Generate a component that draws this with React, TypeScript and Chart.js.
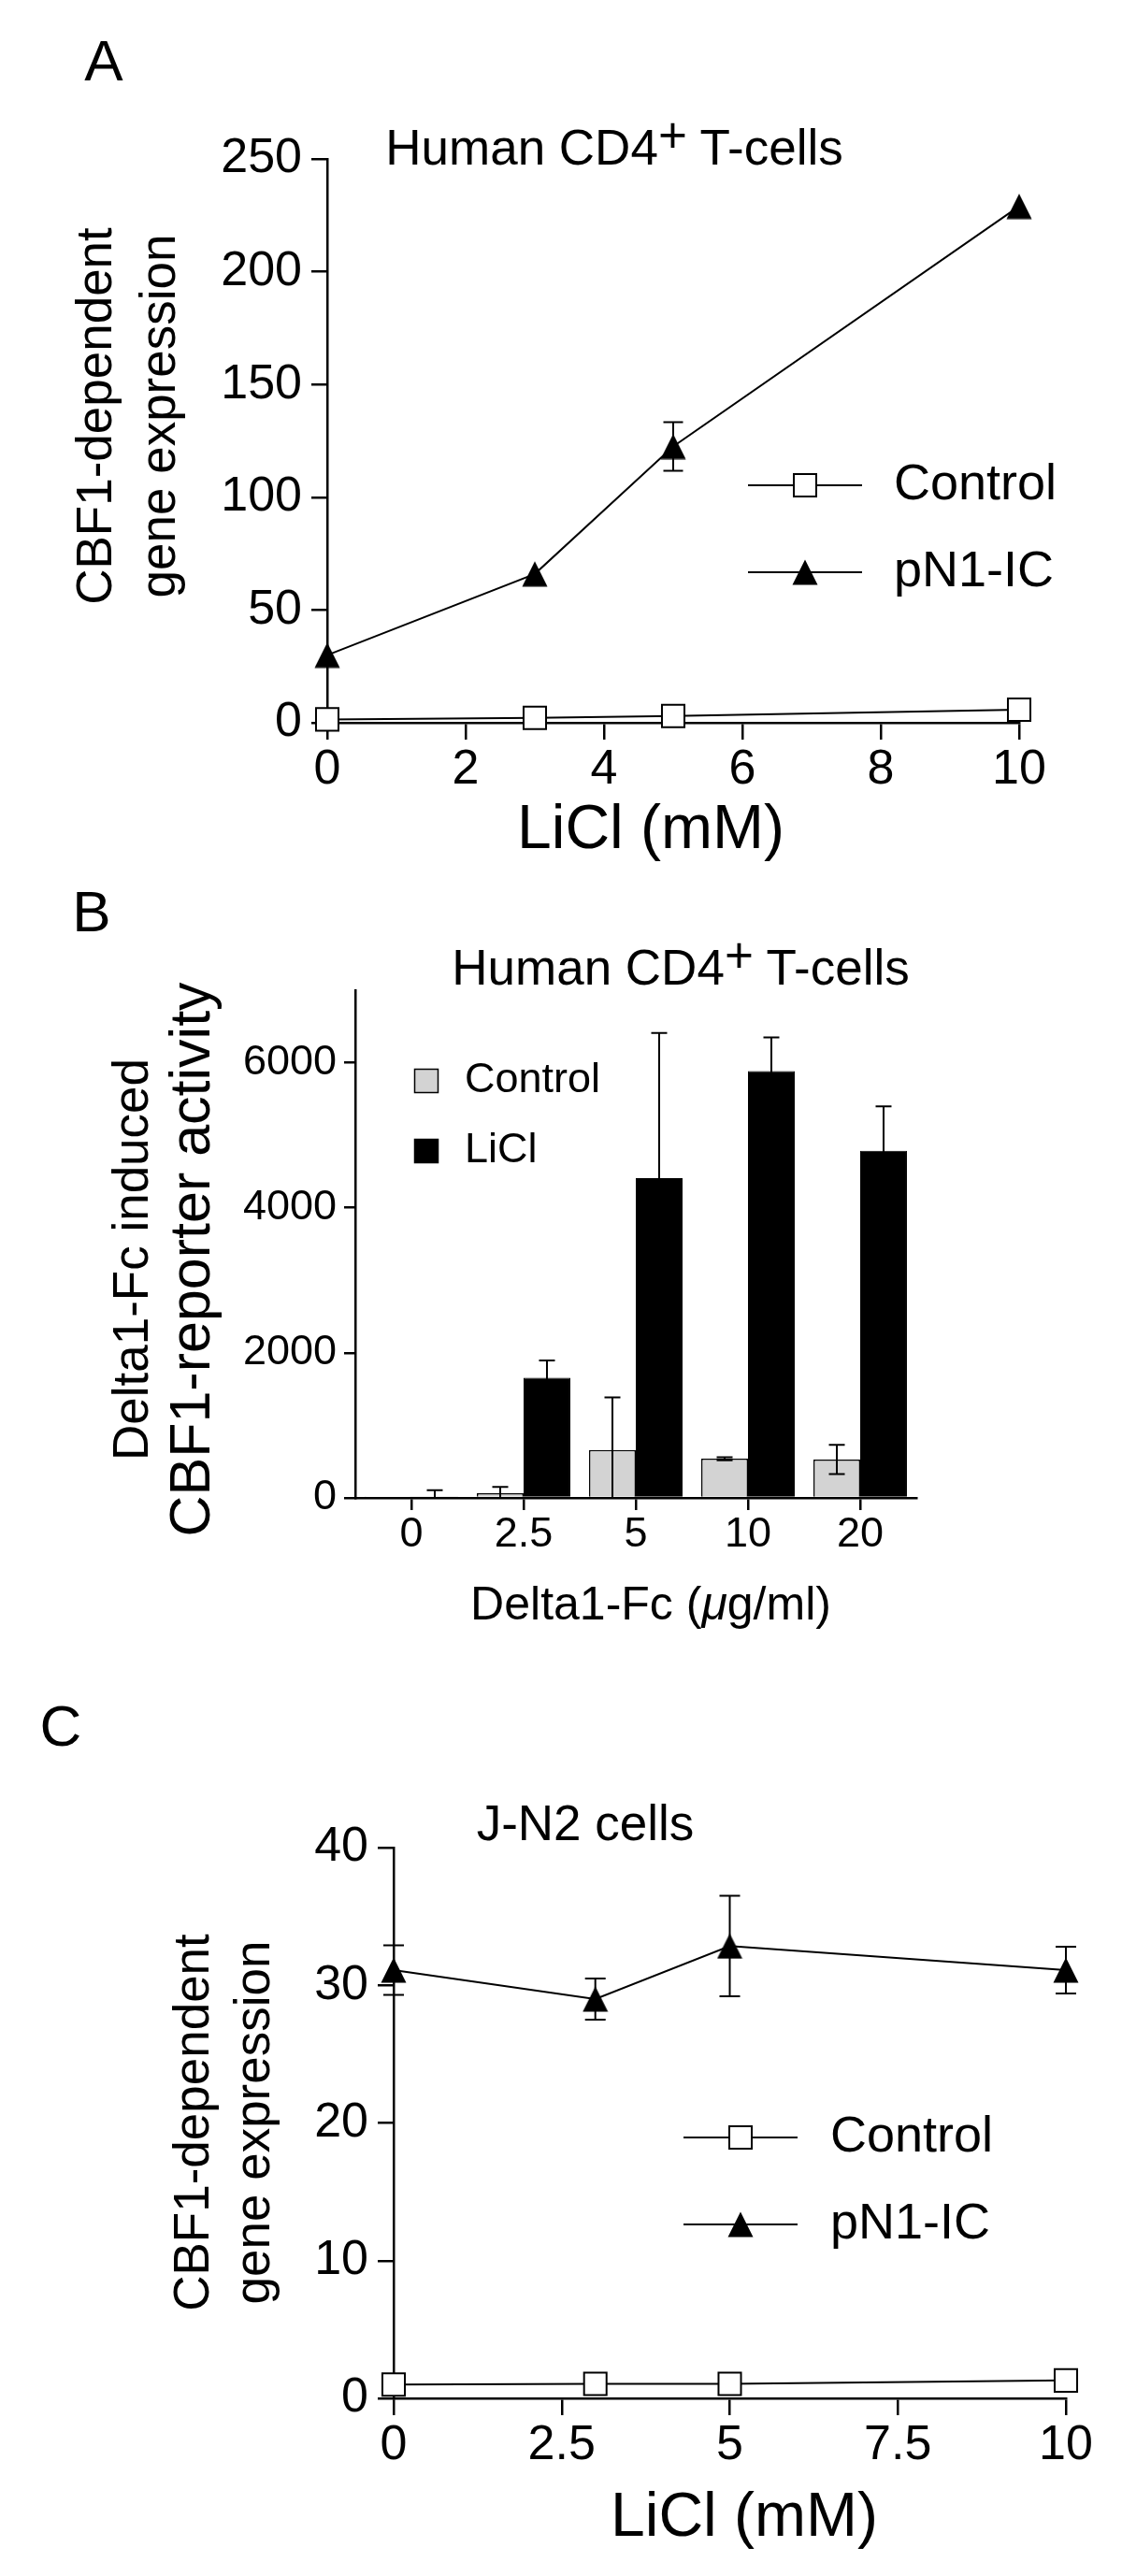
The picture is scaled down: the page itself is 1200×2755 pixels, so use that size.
import React, { useEffect, useRef } from "react";
import { Chart, registerables } from "chart.js";

Chart.register(...registerables);

const FONT = "'Liberation Sans', Arial, Helvetica, sans-serif";

// ---------- Panel A : Human CD4+ T-cells, LiCl dose ----------
const liclA = [0, 3, 5, 10];
const controlA = [1.5, 2.2, 3.0, 5.8];
const pn1A = [30, 66, 122.5, 229];
const pn1AErr = [0, 0, 10.8, 0];
const xTicksA = [0, 2, 4, 6, 8, 10];
const yTicksA = [0, 50, 100, 150, 200, 250];

// ---------- Panel B : Delta1-Fc, bars ----------
const deltaLabels = ["0", "2.5", "5", "10", "20"];
const controlB = [10, 65, 660, 540, 530];
const controlBErr = [0, 85, 725, 20, 200];
const liclB = [5, 1655, 4410, 5885, 4785];
const liclBErr = [100, 240, 2000, 463, 612];
const yTicksB = [0, 2000, 4000, 6000];
const yMaxB = 7000;

// ---------- Panel C : J-N2 cells ----------
const liclC = [0, 3, 5, 10];
const controlC = [1.0, 1.05, 1.05, 1.3];
const pn1C = [31.1, 29.0, 32.85, 31.1];
const pn1CErr = [1.8, 1.5, 3.65, 1.7];
const xTicksC = [0, 2.5, 5, 7.5, 10];
const yTicksC = [0, 10, 20, 30, 40];

const seriesLine = ["Control", "pN1-IC"];
const seriesBar = ["Control", "LiCl"];

function makeTriangle(size: number) {
  const c = document.createElement("canvas");
  c.width = size;
  c.height = size;
  const g = c.getContext("2d")!;
  g.fillStyle = "#000";
  g.beginPath();
  g.moveTo(size / 2, 0.5);
  g.lineTo(size - 0.5, size - 0.5);
  g.lineTo(0.5, size - 0.5);
  g.closePath();
  g.fill();
  return c;
}

function errorBarPlugin(errs: (number[] | null)[], cap: number) {
  return {
    id: "errbars",
    afterDatasetsDraw(chart: any) {
      const ctx = chart.ctx;
      const ys = chart.scales.y;
      ctx.save();
      ctx.strokeStyle = "#000";
      ctx.lineWidth = 2;
      errs.forEach((e, di) => {
        if (!e) return;
        const meta = chart.getDatasetMeta(di);
        const data = chart.data.datasets[di].data;
        meta.data.forEach((el: any, i: number) => {
          const err = e[i];
          if (!err) return;
          const raw = data[i];
          const v = typeof raw === "number" ? raw : raw.y;
          const x = el.x;
          const yt = ys.getPixelForValue(v + err);
          const low = Math.max(ys.min, v - err);
          const yb = ys.getPixelForValue(low);
          ctx.beginPath();
          ctx.moveTo(x, yt);
          ctx.lineTo(x, yb);
          ctx.moveTo(x - cap / 2, yt);
          ctx.lineTo(x + cap / 2, yt);
          if (v - err > ys.min) {
            ctx.moveTo(x - cap / 2, yb);
            ctx.lineTo(x + cap / 2, yb);
          }
          ctx.stroke();
        });
      });
      ctx.restore();
    },
  };
}

type LineLegend = {
  x0: number; x1: number; mx: number; tx: number; size: number;
  rows: { label: string; marker: "square" | "tri"; y: number }[];
};
function lineLegendPlugin(cfg: LineLegend, tri: HTMLCanvasElement) {
  return {
    id: "lineLegend",
    afterDraw(chart: any) {
      const ctx = chart.ctx;
      ctx.save();
      for (const r of cfg.rows) {
        ctx.strokeStyle = "#000";
        ctx.lineWidth = 2;
        ctx.beginPath();
        ctx.moveTo(cfg.x0, r.y);
        ctx.lineTo(cfg.x1, r.y);
        ctx.stroke();
        if (r.marker === "square") {
          ctx.fillStyle = "#fff";
          ctx.fillRect(cfg.mx - 12, r.y - 12, 24, 24);
          ctx.strokeRect(cfg.mx - 12, r.y - 12, 24, 24);
        } else {
          ctx.drawImage(tri, cfg.mx - tri.width / 2, r.y - tri.height / 2);
        }
        ctx.fillStyle = "#000";
        ctx.font = `${cfg.size}px ${FONT}`;
        ctx.textBaseline = "middle";
        ctx.textAlign = "left";
        ctx.fillText(r.label, cfg.tx, r.y);
      }
      ctx.restore();
    },
  };
}

type BoxLegend = {
  bx: number; bs: number; tx: number; size: number;
  rows: { label: string; fill: string; y: number }[];
};
function boxLegendPlugin(cfg: BoxLegend) {
  return {
    id: "boxLegend",
    afterDraw(chart: any) {
      const ctx = chart.ctx;
      ctx.save();
      for (const r of cfg.rows) {
        ctx.fillStyle = r.fill;
        ctx.strokeStyle = "#000";
        ctx.lineWidth = 1.5;
        ctx.fillRect(cfg.bx - cfg.bs / 2, r.y - cfg.bs / 2, cfg.bs, cfg.bs);
        ctx.strokeRect(cfg.bx - cfg.bs / 2, r.y - cfg.bs / 2, cfg.bs, cfg.bs);
        ctx.fillStyle = "#000";
        ctx.font = `${cfg.size}px ${FONT}`;
        ctx.textBaseline = "middle";
        ctx.textAlign = "left";
        ctx.fillText(r.label, cfg.tx, r.y);
      }
      ctx.restore();
    },
  };
}

function linAxis(ticksArr: number[], o: { max?: number; size: number; pad: number; tl: number; fitW?: number; fitH?: number }) {
  return {
    type: "linear",
    min: ticksArr[0],
    max: o.max ?? ticksArr[ticksArr.length - 1],
    afterBuildTicks: (s: any) => {
      s.ticks = ticksArr.map((v) => ({ value: v }));
    },
    afterFit: (s: any) => {
      if (o.fitW !== undefined) s.width = o.fitW;
      if (o.fitH !== undefined) s.height = o.fitH;
    },
    ticks: {
      font: { family: FONT, size: o.size },
      color: "#000",
      padding: o.pad,
      autoSkip: false,
      maxRotation: 0,
      minRotation: 0,
      callback: (v: any) => String(v),
    },
    grid: { drawOnChartArea: false, drawTicks: true, tickLength: o.tl, color: "#000", lineWidth: 2.5 },
    border: { display: true, color: "#000", width: 2.5 },
  };
}

function lineDatasets(xs: number[], ctrl: number[], pn1: number[], tri: HTMLCanvasElement) {
  return [
    {
      label: seriesLine[0],
      data: xs.map((x, i) => ({ x, y: ctrl[i] })),
      borderColor: "#000",
      borderWidth: 2,
      tension: 0,
      fill: false,
      pointStyle: "rect",
      pointRadius: 17,
      pointBackgroundColor: "#fff",
      pointBorderColor: "#000",
      pointBorderWidth: 2,
      clip: false,
    },
    {
      label: seriesLine[1],
      data: xs.map((x, i) => ({ x, y: pn1[i] })),
      borderColor: "#000",
      borderWidth: 2,
      tension: 0,
      fill: false,
      pointStyle: tri,
      pointRadius: 14,
      clip: false,
    },
  ];
}

const baseOpts = {
  responsive: false,
  animation: false,
  devicePixelRatio: 1,
  events: [],
  plugins: { legend: { display: false }, tooltip: { enabled: false }, title: { display: false } },
};

function Txt(p: { x: number; y: number; size: number; rotate?: boolean; children: React.ReactNode }) {
  return (
    <div
      style={{
        position: "absolute",
        left: p.x,
        top: p.y,
        fontSize: p.size,
        lineHeight: 1,
        fontFamily: FONT,
        color: "#000",
        whiteSpace: "nowrap",
        transform: `translate(-50%, -50%)${p.rotate ? " rotate(-90deg)" : ""}`,
      }}
    >
      {p.children}
    </div>
  );
}

const sup = { position: "relative" as const, top: "-0.25em" };

export default function App() {
  const refA = useRef<HTMLCanvasElement>(null);
  const refB = useRef<HTMLCanvasElement>(null);
  const refC = useRef<HTMLCanvasElement>(null);

  useEffect(() => {
    const tri = makeTriangle(28);

    const chartA = new Chart(refA.current!, {
      type: "line",
      data: { datasets: lineDatasets(liclA, controlA, pn1A, tri) as any },
      options: {
        ...baseOpts,
        layout: { padding: { top: 170, right: 110, left: 0, bottom: 0 } },
        scales: {
          x: linAxis(xTicksA, { size: 52, pad: 1, tl: 18, fitH: 127 }) as any,
          y: linAxis(yTicksA, { size: 52, pad: 10, tl: 17, fitW: 350 }) as any,
        },
      } as any,
      plugins: [
        errorBarPlugin([null, pn1AErr], 21),
        lineLegendPlugin(
          {
            x0: 800, x1: 922, mx: 861, tx: 956, size: 54,
            rows: [
              { label: seriesLine[0], marker: "square", y: 519 },
              { label: seriesLine[1], marker: "tri", y: 612 },
            ],
          },
          tri
        ),
      ] as any,
    });

    const chartB = new Chart(refB.current!, {
      type: "bar",
      data: {
        labels: deltaLabels,
        datasets: [
          {
            label: seriesBar[0],
            data: controlB,
            backgroundColor: "#d3d3d3",
            borderColor: "#000",
            borderWidth: 1.5,
            categoryPercentage: 0.833,
            barPercentage: 1.0,
          },
          {
            label: seriesBar[1],
            data: liclB,
            backgroundColor: "#000",
            borderColor: "#000",
            borderWidth: 1,
            categoryPercentage: 0.833,
            barPercentage: 1.0,
          },
        ],
      },
      options: {
        ...baseOpts,
        layout: { padding: { top: 159, right: 220, left: 0, bottom: 0 } },
        scales: {
          x: {
            type: "category",
            offset: true,
            afterFit: (s: any) => {
              s.height = 158;
            },
            ticks: { font: { family: FONT, size: 45 }, color: "#000", padding: 0, autoSkip: false, maxRotation: 0, minRotation: 0 },
            grid: { offset: false, drawOnChartArea: false, drawTicks: true, tickLength: 13, color: "#000", lineWidth: 2.5 },
            border: { display: true, color: "#000", width: 2.5 },
          },
          y: linAxis(yTicksB, { max: yMaxB, size: 45, pad: 8, tl: 12, fitW: 380 }) as any,
        },
      } as any,
      plugins: [
        errorBarPlugin([controlBErr, liclBErr], 17),
        boxLegendPlugin({
          bx: 456, bs: 25, tx: 497, size: 45,
          rows: [
            { label: seriesBar[0], fill: "#d3d3d3", y: 256 },
            { label: seriesBar[1], fill: "#000", y: 331 },
          ],
        }),
      ] as any,
    });

    const chartC = new Chart(refC.current!, {
      type: "line",
      data: { datasets: lineDatasets(liclC, controlC, pn1C, tri) as any },
      options: {
        ...baseOpts,
        layout: { padding: { top: 216, right: 60, left: 0, bottom: 0 } },
        scales: {
          x: linAxis(xTicksC, { size: 52, pad: 1, tl: 18, fitH: 190 }) as any,
          y: linAxis(yTicksC, { size: 52, pad: 10, tl: 17, fitW: 421 }) as any,
        },
      } as any,
      plugins: [
        errorBarPlugin([null, pn1CErr], 22),
        lineLegendPlugin(
          {
            x0: 731, x1: 853, mx: 792, tx: 888, size: 54,
            rows: [
              { label: seriesLine[0], marker: "square", y: 526 },
              { label: seriesLine[1], marker: "tri", y: 619 },
            ],
          },
          tri
        ),
      ] as any,
    });

    return () => {
      chartA.destroy();
      chartB.destroy();
      chartC.destroy();
    };
  }, []);

  return (
    <div
      style={{
        position: "absolute",
        left: 0,
        top: 0,
        width: 1200,
        height: 2755,
        background: "#fff",
        overflow: "hidden",
      }}
    >
      <canvas ref={refA} width={1200} height={900} style={{ position: "absolute", left: 0, top: 0, width: 1200, height: 900 }} />
      <canvas ref={refB} width={1200} height={860} style={{ position: "absolute", left: 0, top: 900, width: 1200, height: 860 }} />
      <canvas ref={refC} width={1200} height={995} style={{ position: "absolute", left: 0, top: 1760, width: 1200, height: 995 }} />

      {/* Panel A */}
      <Txt x={111} y={65} size={62}>A</Txt>
      <Txt x={657} y={157} size={53}>
        Human CD4<span style={sup}>+</span> T-cells
      </Txt>
      <Txt x={100} y={445} size={53} rotate>CBF1-dependent</Txt>
      <Txt x={168} y={445} size={53} rotate>gene expression</Txt>
      <Txt x={696} y={884} size={66}>LiCl (mM)</Txt>

      {/* Panel B */}
      <Txt x={98} y={975} size={62}>B</Txt>
      <Txt x={728} y={1034} size={53}>
        Human CD4<span style={sup}>+</span> T-cells
      </Txt>
      <Txt x={139} y={1347} size={53} rotate>Delta1-Fc induced</Txt>
      <Txt x={203} y={1347} size={61} rotate>CBF1-reporter activity</Txt>
      <Txt x={696} y={1715} size={50}>
        Delta1-Fc (<i>μ</i>g/ml)
      </Txt>

      {/* Panel C */}
      <Txt x={65} y={1846} size={62}>C</Txt>
      <Txt x={626} y={1949} size={53}>J-N2 cells</Txt>
      <Txt x={204} y={2270} size={53} rotate>CBF1-dependent</Txt>
      <Txt x={269} y={2270} size={53} rotate>gene expression</Txt>
      <Txt x={796} y={2689} size={66}>LiCl (mM)</Txt>
    </div>
  );
}
